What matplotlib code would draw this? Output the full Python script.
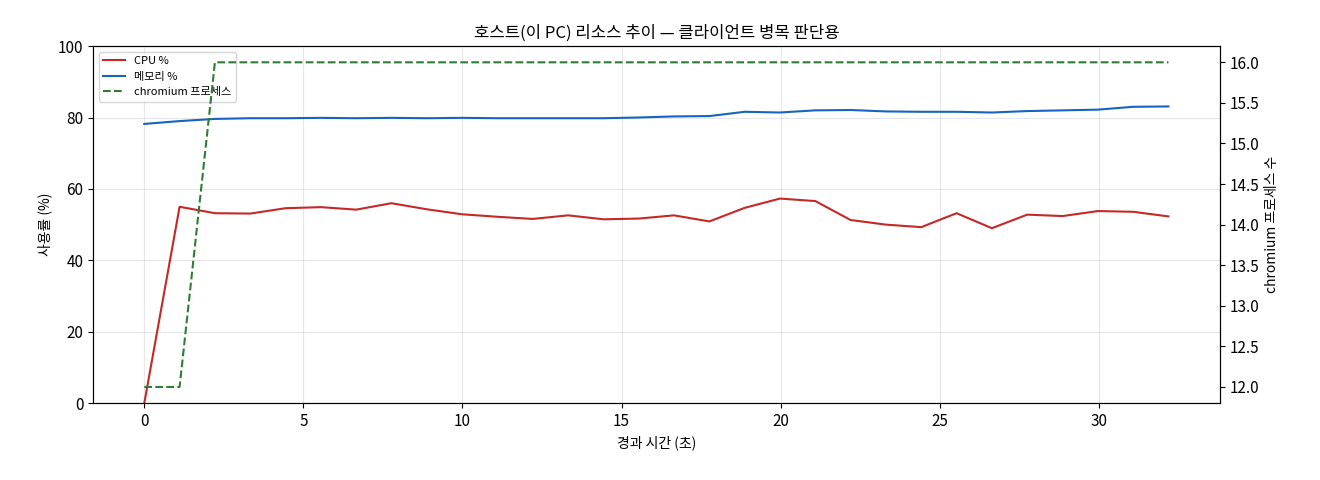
import matplotlib
matplotlib.use('Agg')
import matplotlib.pyplot as plt

plt.rcParams['font.family'] = ['Noto Sans CJK KR', 'DejaVu Sans']
plt.rcParams['font.size'] = 11

times = [i * 1.11 for i in range(30)]
cpu = [0, 55, 53.2, 53.1, 54.6, 54.9, 54.2, 56.0, 54.3, 52.9, 52.2, 51.6, 52.6, 51.5, 51.7,
       52.6, 50.9, 54.7, 57.3, 56.6, 51.3, 50.0, 49.3, 53.2, 49.0, 52.8, 52.4, 53.8, 53.6, 52.3]
mem = [78.2, 79, 79.6, 79.8, 79.8, 79.9, 79.8, 79.9, 79.8, 79.9, 79.8, 79.8, 79.8, 79.8, 80,
       80.3, 80.4, 81.6, 81.4, 82, 82.1, 81.7, 81.6, 81.6, 81.4, 81.8, 82.0, 82.2, 83, 83.1]
procs = [12, 12] + [16] * 28

fig, ax = plt.subplots(figsize=(13.2, 4.8), dpi=100)
l1, = ax.plot(times, cpu, color='#c62828', lw=1.5, label='CPU %')
l2, = ax.plot(times, mem, color='#1565c0', lw=1.5, label='메모리 %')
ax.set_ylim(0, 100)
ax.set_xlabel('경과 시간 (초)', fontsize=10)
ax.set_ylabel('사용률 (%)', fontsize=10)
ax.grid(True, alpha=0.3)
ax.set_title('호스트(이 PC) 리소스 추이 — 클라이언트 병목 판단용', fontsize=12)

ax2 = ax.twinx()
l3, = ax2.plot(times, procs, color='#2e7d32', lw=1.5, ls='--', label='chromium 프로세스')
ax2.set_ylim(11.8, 16.2)
ax2.set_ylabel('chromium 프로세스 수', fontsize=10)

ax.legend(handles=[l1, l2, l3], loc='upper left', fontsize=8)
fig.subplots_adjust(left=0.0705, right=0.924, top=0.904, bottom=0.16)
fig.savefig('out.png')
